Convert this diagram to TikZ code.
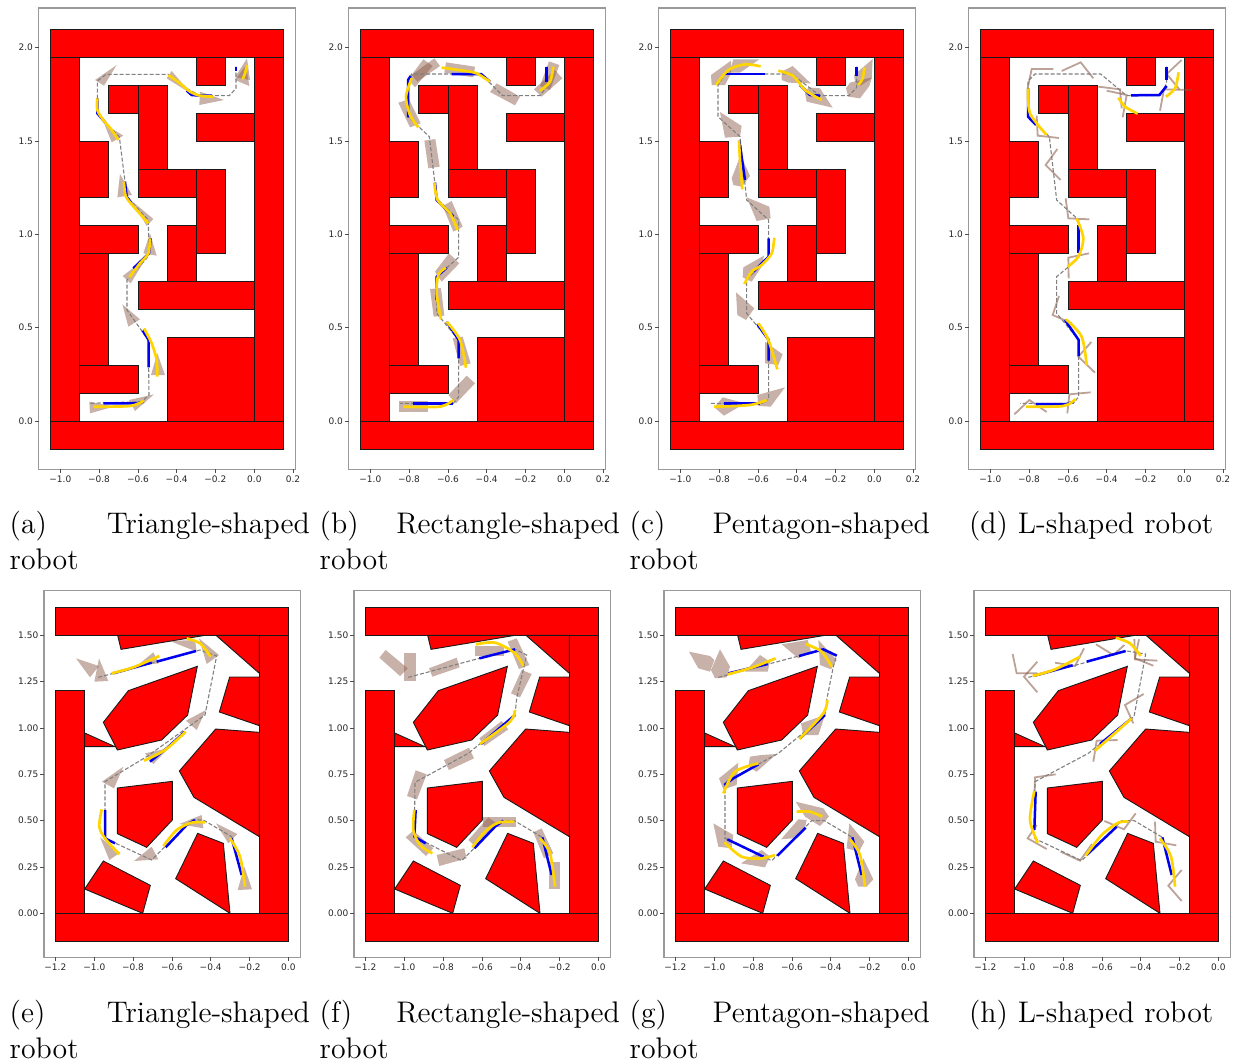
\documentclass[tikz,border=0pt]{standalone}
\usepackage{fontspec}
\newfontfamily\tickfont{DejaVu Sans}
\definecolor{wallred}{HTML}{FF0000}
\definecolor{robotbrown}{HTML}{875541}
\definecolor{axisgray}{HTML}{9A9A9A}
\definecolor{pathgold}{HTML}{FFD400}
\definecolor{pathblue}{HTML}{0000F0}

% one sweep of a panel
\newcommand{\rob}[1]{\fill[robot] plot coordinates {#1} -- cycle;}
\newcommand{\arm}[1]{\draw[armrobot] plot coordinates {#1};}
\newcommand{\tour}[1]{\draw[tour] plot coordinates {#1};}
\newcommand{\bluerun}[1]{\draw[bluerun] plot coordinates {#1};}
\newcommand{\goldrun}[1]{\draw[goldrun] plot[smooth] coordinates {#1};}

% grid maze of the top row
\newcommand{\gridmaze}{%
  \draw[frameline] (26,24) rectangle (796,1408);
  \foreach \xa/\ya/\xb/\yb in {61/87/761/171, 61/1263/761/1347, 61/171/149/1263, 673/171/761/1263,
      499/171/586/255, 236/255/324/339, 324/255/411/507, 499/339/673/423, 149/423/236/591,
      324/507/499/591, 499/507/586/759, 149/675/324/759, 411/675/499/843, 149/759/236/1095,
      324/843/673/927, 411/1011/673/1263, 149/1095/324/1179}
    \draw[wall] (\xa,\ya) rectangle (\xb,\yb);
  \foreach \y/\lab in {142/2.0, 423/1.5, 703/1.0, 983/0.5, 1263/0.0}{
    \draw[tick] (26,\y) -- (14,\y);
    \node[ticklab, anchor=east] (yl\y) at (10,\y) {\lab};
  }
  \foreach \x/\lab in {91/−1.0, 207/−0.8, 324/−0.6, 440/−0.4, 556/−0.2, 673/0.0, 789/0.2}{
    \draw[tick] (\x,1408) -- (\x,1420);
    \node[ticklab] (xl\x) at (\x,1438) {\lab};
  }
}

% polygon maze of the bottom row
\newcommand{\polymaze}{%
  \draw[frameline] (27,2) rectangle (796,1102);
  \foreach \xa/\ya/\xb/\yb in {61/52/761/136, 61/970/761/1054, 61/302/149/970, 673/136/761/970}
    \draw[wall] (\xa,\ya) rectangle (\xb,\yb);
  \draw[wall] (248,136) -- (258,178) -- (510,136) -- cycle;
  \draw[wall] (543,136) -- (673,250) -- (673,136) -- cycle;
  \draw[wall] (584,261) -- (673,261) -- (673,407) -- (553,366) -- cycle;
  \draw[wall] (280,302) -- (487,229) -- (458,375) -- (380,450) -- (247,480) -- (205,397) -- cycle;
  \draw[wall] (149,429) -- (240,470) -- (149,470) -- cycle;
  \draw[wall] (542,417) -- (673,427) -- (673,740) -- (477,622) -- (433,543) -- cycle;
  \draw[wall] (247,594) -- (412,574) -- (412,690) -- (335,772) -- (247,731) -- cycle;
  \draw[wall] (205,813) -- (346,886) -- (323,970) -- (149,897) -- cycle;
  \draw[wall] (488,730) -- (565,760) -- (585,970) -- (422,866) -- cycle;
  \foreach \y/\lab in {136/1.50, 275/1.25, 414/1.00, 553/0.75, 692/0.50, 831/0.25, 970/0.00}{
    \draw[tick] (27,\y) -- (15,\y);
    \node[ticklab, anchor=east] (yl\y) at (11,\y) {\lab};
  }
  \foreach \x/\lab in {61/−1.2, 178/−1.0, 294/−0.8, 411/−0.6, 527/−0.4, 644/−0.2, 760/0.0}{
    \draw[tick] (\x,1102) -- (\x,1114);
    \node[ticklab] (xl\x) at (\x,1132) {\lab};
  }
}

\begin{document}
\begin{tikzpicture}[
    x=0.166667pt, y=-0.166667pt,
    wall/.style={draw=black!90, fill=wallred, line width=0.45pt},
    frameline/.style={draw=axisgray, line width=0.6pt},
    tick/.style={draw=black!70, line width=0.3pt},
    ticklab/.style={font=\tickfont\fontsize{4.5}{5}\selectfont, inner sep=0pt, text=black!85},
    robot/.style={fill=robotbrown, fill opacity=0.46},
    armrobot/.style={draw=robotbrown, draw opacity=0.55, line width=0.9pt},
    tour/.style={draw=gray, line width=0.55pt, dash pattern=on 2pt off 1pt},
    bluerun/.style={draw=pathblue, line width=1.25pt, line join=round},
    goldrun/.style={draw=pathgold, line width=1.35pt},
    caption/.style={font=\fontsize{14.9}{18}\selectfont, anchor=north west, inner sep=0pt, text width=150pt, align=left},
  ]
  \useasboundingbox (0,0) rectangle (3714,3192);

  % ----- (a) triangle, grid maze -----
  \begin{scope}[shift={(90,0)}]
    \gridmaze
    \rob{(651,175) (615,232) (660,240)}
    \rob{(615,240) (658,258) (648,195)}
    \rob{(260,195) (195,240) (222,257)}
    \rob{(425,213) (410,235) (482,280)}
    \rob{(510,275) (582,300) (508,315)}
    \rob{(280,407) (223,372) (245,427)}
    \rob{(270,522) (262,592) (306,585)}
    \rob{(370,657) (308,605) (350,678)}
    \rob{(360,700) (340,760) (380,767)}
    \rob{(348,775) (278,828) (302,850)}
    \rob{(277,913) (295,980) (330,958)}
    \rob{(382,1060) (363,1125) (405,1125)}
    \rob{(372,1183) (297,1200) (315,1233)}
    \rob{(178,1205) (250,1220) (180,1240)}
    \tour{(618,200) (618,265) (598,287) (510,287) (475,268) (415,223) (228,223) (202,243) (202,340) (228,370) (268,410) (285,545) (290,590) (355,660) (357,760) (350,775) (291,840) (291,930) (330,985) (355,1020) (357,1185) (335,1205) (178,1210)}
    \bluerun{(618,200) (618,212)}
    \bluerun{(546,287) (510,287) (485,285) (470,272)}
    \bluerun{(202,295) (202,340) (228,370)}
    \bluerun{(285,545) (290,590) (305,610)}
    \bluerun{(362,715) (357,760) (310,805)}
    \bluerun{(356,1102) (356,1020) (338,992)}
    \bluerun{(342,1205) (320,1210) (220,1210)}
    \goldrun{(651,195) (645,220) (638,238)}
    \goldrun{(415,225) (450,250) (480,275) (510,287) (550,290)}
    \goldrun{(202,295) (202,330) (220,360) (245,390) (265,420)}
    \goldrun{(282,545) (288,590) (320,630) (355,670)}
    \goldrun{(360,715) (355,760) (330,790) (298,832)}
    \goldrun{(342,985) (365,1030) (380,1080) (382,1130)}
    \goldrun{(342,1202) (300,1218) (190,1220)}
  \end{scope}

  % ----- (b) rectangle, grid maze -----
  \begin{scope}[shift={(1020,0)}]
    \gridmaze
    \rob{(627,184) (658,195) (630,270) (600,258)}
    \rob{(645,210) (667,235) (605,290) (582,268)}
    \rob{(450,276) (470,250) (540,290) (525,316)}
    \rob{(318,187) (405,200) (400,232) (313,218)}
    \rob{(283,175) (300,198) (232,245) (215,225)}
    \rob{(250,178) (278,198) (225,262) (205,238)}
    \rob{(175,308) (207,298) (242,370) (210,382)}
    \rob{(253,422) (286,417) (299,500) (265,505)}
    \rob{(308,618) (335,603) (368,680) (340,695)}
    \rob{(327,760) (358,790) (305,845) (285,815)}
    \rob{(270,867) (303,864) (313,947) (281,950)}
    \rob{(338,1015) (368,1010) (392,1090) (360,1098)}
    \rob{(380,1127) (405,1150) (348,1210) (325,1185)}
    \rob{(178,1204) (265,1204) (265,1237) (178,1237)}
    \tour{(620,200) (620,260) (600,287) (488,287) (423,222) (215,222) (204,240) (204,350) (268,410) (290,595) (356,660) (356,772) (290,830) (290,940) (356,1020) (356,1190) (340,1210) (180,1210)}
    \bluerun{(620,200) (620,245)}
    \bluerun{(335,222) (423,222) (450,245)}
    \bluerun{(204,352) (204,240) (212,228)}
    \bluerun{(285,548) (290,600) (340,650)}
    \bluerun{(320,803) (290,830) (290,900)}
    \bluerun{(320,965) (356,1020) (356,1075)}
    \bluerun{(218,1210) (340,1210)}
    \goldrun{(640,200) (630,245) (600,272)}
    \goldrun{(305,203) (400,217) (430,232) (450,245)}
    \goldrun{(215,235) (198,290) (210,345) (235,382)}
    \goldrun{(283,548) (293,600) (330,640) (353,690)}
    \goldrun{(318,803) (295,825) (290,880) (303,958)}
    \goldrun{(320,965) (360,1020) (378,1103)}
    \goldrun{(340,1200) (300,1220) (190,1220)}
  \end{scope}

  % ----- (c) pentagon, grid maze -----
  \begin{scope}[shift={(1950,0)}]
    \gridmaze
    \rob{(668,177) (665,235) (630,258) (615,245) (612,225)}
    \rob{(666,232) (658,258) (630,295) (595,290) (588,265) (600,248)}
    \rob{(548,323) (470,305) (465,280) (475,262) (510,265)}
    \rob{(482,250) (428,198) (395,215) (395,240) (415,248)}
    \rob{(328,178) (250,178) (238,218) (270,218)}
    \rob{(243,182) (183,225) (185,255) (225,255) (243,220)}
    \rob{(210,336) (275,378) (270,410) (225,413)}
    \rob{(272,465) (300,528) (275,560) (250,555) (245,535)}
    \rob{(290,592) (358,620) (362,655) (320,663)}
    \rob{(342,767) (280,802) (278,832) (305,845) (335,800)}
    \rob{(258,877) (313,925) (288,960) (262,945)}
    \rob{(345,1025) (398,1063) (385,1095) (345,1090)}
    \rob{(405,1162) (322,1185) (325,1218) (362,1220)}
    \rob{(285,1210) (218,1192) (193,1222) (222,1247)}
    \tour{(620,200) (620,262) (597,287) (510,287) (425,222) (225,222) (204,255) (204,350) (270,410) (290,600) (356,660) (356,770) (290,840) (290,940) (356,1020) (356,1195) (340,1210) (180,1210)}
    \bluerun{(620,200) (620,228)}
    \bluerun{(510,287) (480,285) (450,255)}
    \bluerun{(225,222) (345,222)}
    \bluerun{(268,422) (285,540)}
    \bluerun{(356,715) (356,770) (310,815)}
    \bluerun{(322,972) (356,1020) (356,1082)}
    \bluerun{(222,1210) (330,1210)}
    \goldrun{(643,202) (638,235) (625,255)}
    \goldrun{(385,212) (430,228) (465,270) (515,300)}
    \goldrun{(332,199) (285,193) (235,210) (198,255)}
    \goldrun{(267,422) (270,480) (277,568)}
    \goldrun{(373,713) (365,760) (335,795) (305,815) (283,852)}
    \goldrun{(325,970) (355,1020) (382,1108)}
    \goldrun{(350,1200) (300,1215) (192,1220)}
  \end{scope}

  % ----- (d) L, grid maze -----
  \begin{scope}[shift={(2880,0)}]
    \gridmaze
    \arm{(665,180) (620,222) (658,268)}
    \arm{(695,270) (612,268) (600,332)}
    \arm{(415,260) (480,268) (485,325)}
    \arm{(440,272) (500,285) (488,352)}
    \arm{(400,235) (362,187) (305,213)}
    \arm{(280,207) (215,207) (203,265)}
    \arm{(230,347) (233,407) (297,414)}
    \arm{(292,447) (257,495) (302,540)}
    \arm{(317,595) (325,655) (388,658)}
    \arm{(387,760) (325,773) (326,835)}
    \arm{(297,888) (278,945) (335,970)}
    \arm{(394,1026) (355,1070) (405,1118)}
    \arm{(392,1177) (328,1183) (322,1240)}
    \arm{(260,1236) (208,1200) (163,1243)}
    \tour{(620,200) (620,250) (600,287) (500,287) (422,222) (225,222) (204,243) (204,350) (268,410) (290,600) (356,660) (356,775) (290,830) (290,940) (356,1020) (356,1190) (340,1210) (180,1210)}
    \bluerun{(620,200) (620,240)}
    \bluerun{(620,258) (598,285) (513,286)}
    \bluerun{(204,265) (204,350) (228,375)}
    \bluerun{(356,675) (356,760)}
    \bluerun{(315,960) (356,1020) (356,1068)}
    \bluerun{(228,1212) (320,1212) (342,1205)}
    \goldrun{(656,217) (645,265) (618,290)}
    \goldrun{(475,293) (495,320) (533,341)}
    \goldrun{(204,265) (210,340) (260,405)}
    \goldrun{(350,655) (370,715) (355,770) (323,800)}
    \goldrun{(318,958) (365,1010) (380,1095)}
    \goldrun{(347,1197) (310,1218) (198,1220)}
  \end{scope}

  % ----- (e) triangle, polygon maze -----
  \begin{scope}[shift={(105,1770)}]
    \polymaze
    \rob{(123,205) (192,228) (165,262)}
    \rob{(192,205) (178,275) (220,273)}
    \rob{(307,227) (355,187) (372,220)}
    \rob{(405,153) (480,150) (485,185)}
    \rob{(492,145) (552,195) (515,222)}
    \rob{(513,360) (453,392) (485,420)}
    \rob{(330,490) (400,475) (355,522)}
    \rob{(265,530) (201,575) (237,595)}
    \rob{(195,742) (255,788) (223,810)}
    \rob{(370,808) (350,770) (297,813)}
    \rob{(500,675) (433,702) (505,715)}
    \rob{(543,700) (607,732) (580,760)}
    \rob{(628,830) (608,900) (651,898)}
    \tour{(190,262) (403,205) (495,180) (545,198) (510,375) (335,500) (210,575) (210,745) (350,810) (470,690) (505,690) (590,740) (620,855)}
    \bluerun{(235,250) (350,218)}
    \bluerun{(365,215) (483,183)}
    \bluerun{(450,425) (395,475) (345,515)}
    \bluerun{(210,660) (210,745) (240,760)}
    \bluerun{(392,772) (455,705) (480,690)}
    \bluerun{(590,745) (620,855)}
    \goldrun{(230,250) (295,232) (373,198)}
    \goldrun{(455,145) (495,160) (527,200)}
    \goldrun{(452,425) (390,480) (327,512)}
    \goldrun{(200,658) (193,710) (210,745) (253,793)}
    \goldrun{(385,768) (425,720) (470,698) (510,697)}
    \goldrun{(585,745) (615,800) (630,890)}
  \end{scope}

  % ----- (f) rectangle, polygon maze -----
  \begin{scope}[shift={(1035,1770)}]
    \polymaze
    \rob{(122,180) (188,235) (165,258) (103,203)}
    \rob{(178,190) (213,190) (213,273) (178,273)}
    \rob{(252,235) (335,203) (344,232) (262,260)}
    \rob{(390,167) (478,167) (478,197) (390,197)}
    \rob{(515,145) (553,225) (522,237) (488,155)}
    \rob{(530,240) (560,252) (525,322) (498,310)}
    \rob{(470,393) (490,418) (418,468) (403,445)}
    \rob{(372,473) (387,505) (312,540) (297,510)}
    \rob{(212,541) (245,553) (216,628) (186,618)}
    \rob{(182,742) (205,722) (265,775) (243,798)}
    \rob{(275,795) (358,775) (365,805) (283,828)}
    \rob{(370,750) (430,682) (455,700) (392,770)}
    \rob{(415,680) (512,680) (512,712) (415,712)}
    \rob{(590,715) (625,790) (597,805) (565,727)}
    \rob{(612,815) (645,815) (645,897) (612,897)}
    \tour{(190,262) (403,205) (510,178) (545,195) (515,325) (510,375) (370,490) (210,577) (208,740) (350,812) (470,692) (508,692) (592,742) (620,855)}
    \bluerun{(403,205) (510,178)}
    \bluerun{(510,375) (408,462)}
    \bluerun{(212,660) (208,740) (242,760)}
    \bluerun{(388,775) (450,710) (475,692)}
    \bluerun{(592,742) (620,855)}
    \goldrun{(393,163) (450,158) (510,190) (535,228)}
    \goldrun{(510,360) (495,395) (405,462)}
    \goldrun{(208,660) (205,720) (225,765) (262,790)}
    \goldrun{(382,772) (420,725) (460,698) (508,695)}
    \goldrun{(585,745) (615,790) (630,890)}
  \end{scope}

  % ----- (g) pentagon, polygon maze -----
  \begin{scope}[shift={(1965,1770)}]
    \polymaze
    \rob{(102,185) (165,198) (178,210) (165,245) (130,235)}
    \rob{(195,178) (225,230) (215,262) (180,265) (168,240)}
    \rob{(315,195) (345,215) (338,245) (270,245)}
    \rob{(380,163) (458,150) (468,185) (430,205)}
    \rob{(490,150) (545,210) (528,238) (495,225)}
    \rob{(510,375) (490,435) (445,435) (438,400)}
    \rob{(365,492) (305,545) (280,530) (285,500) (320,495)}
    \rob{(250,518) (245,585) (205,598) (192,565)}
    \rob{(175,700) (235,735) (230,775) (190,770)}
    \rob{(320,780) (345,800) (330,832) (258,820)}
    \rob{(455,690) (430,688) (378,748) (412,745) (450,712)}
    \rob{(422,635) (505,655) (522,680) (495,708) (450,680)}
    \rob{(583,700) (628,755) (612,785) (575,775)}
    \rob{(625,805) (655,868) (635,890) (610,890) (600,868)}
    \tour{(190,262) (405,205) (510,178) (545,195) (535,230) (515,330) (510,375) (370,490) (210,577) (210,745) (350,812) (470,692) (508,692) (592,742) (620,855)}
    \bluerun{(220,250) (338,222)}
    \bluerun{(432,198) (505,178) (545,197)}
    \bluerun{(510,375) (435,445)}
    \bluerun{(310,523) (235,565) (208,585)}
    \bluerun{(217,748) (325,800)}
    \bluerun{(367,797) (452,713)}
    \bluerun{(592,742) (620,855)}
    \goldrun{(218,253) (290,233) (362,205)}
    \goldrun{(452,162) (500,185) (530,230)}
    \goldrun{(517,330) (505,370) (433,447)}
    \goldrun{(310,520) (240,545) (205,610)}
    \goldrun{(208,757) (260,800) (320,805) (360,795)}
    \goldrun{(425,665) (465,665) (502,680)}
    \goldrun{(585,748) (615,795) (630,890)}
  \end{scope}

  % ----- (h) L, polygon maze -----
  \begin{scope}[shift={(2895,1770)}]
    \polymaze
    \arm{(357,175) (330,228) (270,218)}
    \arm{(143,192) (155,250) (217,250)}
    \arm{(217,215) (177,260) (217,307)}
    \arm{(393,163) (445,195) (478,165)}
    \arm{(508,147) (510,208) (577,212)}
    \arm{(522,148) (510,205) (565,227)}
    \arm{(536,312) (480,345) (505,400)}
    \arm{(458,450) (395,452) (385,515)}
    \arm{(272,553) (210,562) (208,625)}
    \arm{(215,705) (188,745) (245,777)}
    \arm{(381,762) (345,812) (287,785)}
    \arm{(512,670) (477,718) (418,693)}
    \arm{(570,695) (572,755) (634,766)}
    \arm{(650,840) (610,887) (650,933)}
    \tour{(190,262) (345,222) (485,183) (542,192) (507,380) (370,490) (210,575) (208,745) (350,812) (470,692) (508,692) (592,742) (620,855)}
    \bluerun{(205,258) (323,226)}
    \bluerun{(365,215) (482,183)}
    \bluerun{(500,385) (405,462)}
    \bluerun{(212,605) (208,720)}
    \bluerun{(365,795) (455,710)}
    \bluerun{(592,742) (620,855)}
    \goldrun{(203,258) (270,238) (345,200)}
    \goldrun{(452,143) (495,160) (527,198)}
    \goldrun{(500,385) (390,482)}
    \goldrun{(208,603) (195,690) (218,758)}
    \goldrun{(362,797) (410,735) (460,698) (490,695)}
    \goldrun{(585,745) (618,800) (630,890)}
  \end{scope}

  % ----- captions -----
  \node[caption] (capa) at (28,1533) {(a)\hfill Triangle-shaped\\robot};
  \node[caption] (capb) at (958,1533) {(b)\hfill Rectangle-shaped\\robot};
  \node[caption] (capc) at (1888,1533) {(c)\hfill Pentagon-shaped\\robot};
  \node[caption] (capd) at (2906,1533) {(d) L-shaped robot};
  \node[caption] (cape) at (28,2999) {(e)\hfill Triangle-shaped\\robot};
  \node[caption] (capf) at (958,2999) {(f)\hfill Rectangle-shaped\\robot};
  \node[caption] (capg) at (1888,2999) {(g)\hfill Pentagon-shaped\\robot};
  \node[caption] (caph) at (2906,2999) {(h) L-shaped robot};
\end{tikzpicture}
\end{document}
